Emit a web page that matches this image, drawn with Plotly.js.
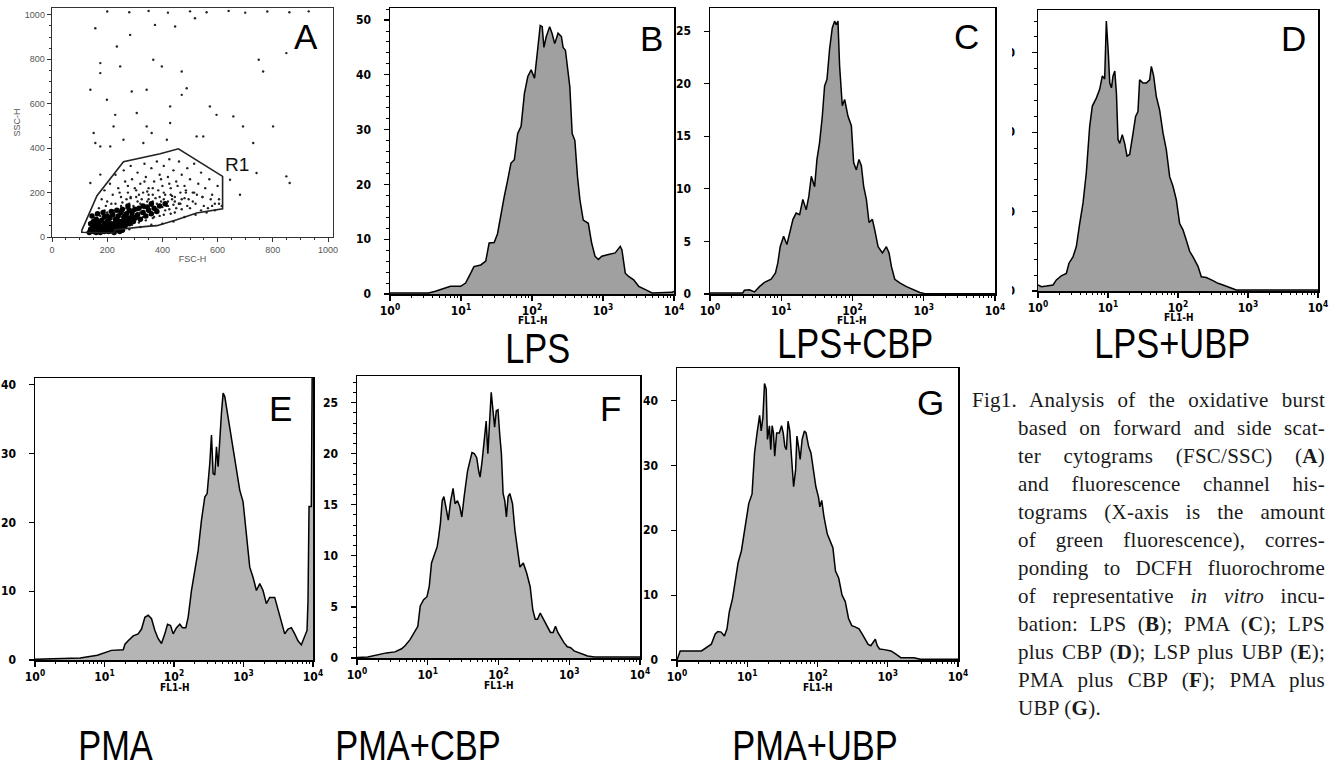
<!DOCTYPE html>
<html><head><meta charset="utf-8">
<script src="https://cdn.plot.ly/plotly-3.0.1.min.js"></script>
<style>
html,body{margin:0;padding:0;background:#fff;}
#chart{position:absolute;left:0;top:0;width:1339px;height:778px;}
#caption{position:absolute;left:972px;top:386px;width:353px;font-family:"Liberation Serif","DejaVu Serif",serif;font-size:21px;letter-spacing:0.25px;line-height:28px;color:#1a1a1a;}
#caption .l{text-align:justify;text-align-last:justify;padding-left:46px;}
#caption .l.first{padding-left:0;}
#caption .l.last{text-align-last:left;}
</style></head><body>
<div id="chart"></div>
<div id="caption">
<div class="l first">Fig1. Analysis of the oxidative burst</div>
<div class="l">based on forward and side scat-</div>
<div class="l">ter cytograms (FSC/SSC) (<b>A</b>)</div>
<div class="l">and fluorescence channel his-</div>
<div class="l">tograms (X-axis is the amount</div>
<div class="l">of green fluorescence), corres-</div>
<div class="l">ponding to DCFH fluorochrome</div>
<div class="l">of representative <i>in vitro</i> incu-</div>
<div class="l">bation: LPS (<b>B</b>); PMA (<b>C</b>); LPS</div>
<div class="l">plus CBP (<b>D</b>); LSP plus UBP (<b>E</b>);</div>
<div class="l">PMA plus CBP (<b>F</b>); PMA plus</div>
<div class="l last">UBP (<b>G</b>).</div>
</div>
<script>
// ---------------- DATA ----------------
const panelTitles = ['LPS', 'LPS+CBP', 'LPS+UBP', 'PMA', 'PMA+CBP', 'PMA+UBP'];
const panelLetters = ['A', 'B', 'C', 'D', 'E', 'F', 'G'];
const decadeTicks = [1, 10, 100, 1000, 10000];
const decadeLabels = ['10<sup>0</sup>', '10<sup>1</sup>', '10<sup>2</sup>', '10<sup>3</sup>', '10<sup>4</sup>'];
const fscTicks = [0, 200, 400, 600, 800, 1000];
const fl1Title = 'FL1-H';

// Panel A: FSC/SSC cytogram (events)
const scatterFsc = [200,280,350,420,500,560,640,700,780,860,930,
 157,283,235,373,446,518,367,398,175,175,247,470,749,765,849,139,289,343,488,199,229,428,572,596,470,307,361,524,657,692,801,151,157,175,223,259,331,416,548,729,741,849,861,681,645,175,139,211,343,428,
 145,150,155,160,165,170,175,180,185,190,195,200,205,210,215,220,225,230,235,240,245,250,255,260,265,270,275,280,285,290,295,300,305,310,315,320,325,330,335,340,345,350,355,360,365,370,375,380,390,400,410,420,430,440,450,
 155,160,170,175,180,185,195,200,210,220,230,240,250,260,270,280,290,300,310,320,330,340,350,360,370,380,395,405,415,425,435,445,460,470,480,490,
 170,180,190,200,210,220,230,240,250,260,265,275,285,290,300,305,310,320,330,335,340,350,360,365,370,380,385,390,400,405,410,420,425,430,440,445,450,460,465,470,480,490,495,500,510,515,520,530,540,545,555,565,570,580,590,600,605,615,
 160,190,230,270,310,350,390,430,470,510,550,590,255,285,325,365,405,445,485,525,400,440,480,520,560,360,320,280,
 215,245,275,305,335,365,395,425,455,485,515,545,575,605,300,340,380,420,460,500,540,580,195,225,255,285,315,345,375,405,435,465];
const scatterSsc = [1015,1012,1018,1010,1016,1012,1018,1010,1015,1012,1016,
 940,910,858,955,948,985,798,768,783,738,768,745,798,745,828,663,655,663,670,618,550,588,588,550,640,558,468,453,543,498,498,468,423,408,498,438,423,438,453,423,288,273,243,190,258,281,243,408,498,513,
 30,45,25,60,40,75,30,55,90,40,65,30,80,50,100,35,70,55,95,40,120,75,60,100,45,130,85,70,110,55,140,95,80,120,65,150,105,90,130,75,160,115,100,140,85,125,110,150,95,135,120,160,105,145,130,
 70,35,50,95,25,65,45,110,75,120,85,65,140,80,60,150,100,130,85,110,140,95,170,105,90,120,160,100,140,125,170,110,150,125,175,140,
 130,170,210,160,240,190,280,220,180,300,250,200,320,260,220,180,290,240,200,330,270,220,310,190,250,340,210,280,230,320,190,270,350,220,300,180,250,340,200,280,230,310,170,260,200,330,150,240,290,180,220,130,260,190,150,230,170,140,
 100,120,150,170,160,190,180,190,170,160,140,120,110,180,170,160,170,160,200,190,60,70,90,100,110,55,45,35,
 150,200,230,210,250,220,260,240,230,210,200,180,170,150,120,135,125,140,150,130,120,140,140,110,155,175,190,205,175,200,185,150];
// dense core of the population (appears solid black)
const coreFsc = [135,140,145,150,155,160,165,170,175,180,185,190,195,200,205,210,215,220,225,230,235,240,245,250,255,260,265,270,275,280,285,290,295,300,310,320,330,340,350,360,370,380,
 140,150,160,170,180,190,200,210,220,230,240,250,260,270,280,290,300,315,330,345,360,390,410,
 150,160,170,190,210,235,255,245,225,185,165,200,215,235,255,275,145,165,185];
const coreSsc = [20,35,55,25,40,20,30,45,20,35,50,25,40,55,25,40,60,30,45,65,35,50,70,40,55,75,50,65,85,60,75,95,70,85,100,80,110,95,120,105,130,115,
 60,70,80,65,75,90,70,85,100,80,95,110,90,105,120,110,125,130,140,135,150,140,150,
 50,55,30,60,30,80,30,25,20,30,65,95,115,120,125,140,95,105,110];
const gateFsc = [108, 163, 259, 392, 458, 618, 618, 524, 452, 380, 343, 229, 223, 108, 108];
const gateSsc = [30, 186, 339, 375, 397, 273, 127, 108, 78, 51, 48, 33, 18, 21, 30];

// Panel B: LPS
const lpsFl1 = [1,3.5,4.36,7.1,9.9,11.6,13.7,15.2,19.0,22.3,24.9,29.3,32.7,35.7,40.7,45.4,50.6,56.4,62.9,70.2,78.2,87.3,97.3,108.6,114.6,121,130.6,139.4,147.2,158.9,177.4,191.4,208.9,232.8,259.5,274.2,295.8,322.8,341.2,368.1,401.8,437.5,473,527,621,692,772,861,960,1194,1486,1750,1846,2060,2297,2704,3184,3963,4920,9460,10000];
const lpsCount = [0.2,0.2,0.5,1.4,1.4,2,3.8,5,5.3,6,9.3,9.4,11,14,17.8,20.8,23.9,24.5,29.3,30.6,36.6,39.7,40.9,39.4,42.7,45,49,48.8,45,47,48.8,47.6,45.7,47.6,47,45,44.5,40.9,37.8,29.3,28,21.4,17.2,13.5,12.9,9.3,6.9,6.3,6.9,7.2,7.5,8.7,8.1,3.8,3.2,2.6,1.4,0.8,0.2,0.3,0.5];

// Panel C: LPS+CBP
const lpsCbpFl1 = [1,2.88,3.04,3.57,4.21,4.94,5.81,7.21,8.30,8.95,9.66,10.8,12.0,13.1,14.6,16.2,18.1,20.1,22.4,24.4,26.4,29.4,31.7,34.5,37.7,40.6,43.8,47.7,52.0,56.1,59.3,62.5,65.9,71.9,77.6,86.5,96.4,103.8,113.2,123.4,133.1,143.6,156.6,170.7,190.2,205.2,228.6,263,299,326,352,392,461,572,710,881,1036,10000];
const lpsCbpCount = [0.1,0.1,0.35,0.4,0.2,0.7,1.1,1.4,2.0,2.95,4.5,5.5,4.7,5.8,7.1,7.7,7.55,9.0,8.0,9.3,11.2,10.2,12.8,14.4,16.9,19.8,20.4,23.3,25.3,25.95,25.6,25.95,21.7,17.9,18.5,16.9,16.0,12.5,11.8,12.8,12.2,10.2,9.0,6.8,7.1,6.1,4.5,3.9,4.5,3.9,2.6,1.4,1.05,0.7,0.4,0.15,0.03,0.03];

// Panel D: LPS+UBP
const lpsUbpFl1 = [1.0,1.12,1.32,1.64,1.83,2.15,2.54,2.77,3.16,3.53,3.94,4.40,4.90,5.47,5.97,6.81,7.60,8.30,8.96,9.47,10.1,10.6,11.2,11.8,12.5,13.2,13.9,14.7,16.0,17.3,18.7,20.4,22.8,24.8,26.8,28.3,31.6,35.3,39.4,41.6,44.9,49.0,54.7,61.1,68.1,76.0,84.8,94.6,105.6,117.8,131.5,146.8,163.8,193.1,215.3,254,316,373,440,547,681,10000];
const lpsUbpCount = [0.76,0.55,0.63,0.76,1.4,1.9,2.2,3.5,4.3,5.6,8.5,11.1,14.9,20.7,23.3,24.3,25.4,27.1,26.7,34.0,30.0,26.2,25.6,27.1,27.7,24.9,19.1,18.6,19.7,18.6,17.0,17.2,19.9,22.0,22.6,26.6,26.2,26.2,26.6,28.3,27.1,24.5,22.8,19.9,17.8,14.4,13.2,11.5,8.5,7.7,6.4,5.0,4.3,3.1,1.8,1.7,1.3,0.97,0.76,0.46,0.13,0.13];
const lpsUbpTicks = [0, 10, 20, 30];

// Panel E: PMA
const pmaFl1 = [1,4.47,7.9,10,12.6,18.6,19.7,21.9,25.9,30.5,34.1,38.1,42.6,47.5,53.1,59.2,66.1,73.8,80.7,89.1,97.3,108.6,121.3,132.5,147.9,159.8,178.4,199.2,222.4,248.3,277.3,299.7,327.4,346,365.6,386.4,408.2,431.4,455.8,481.6,509,538,568,634,708,791,883,986,1101,1230,1374,1535,1714,1910,2133,2382,2812,3141,3508,3918,4375,4887,5457,6083,6795,7586,8204,8472,8770,9460,9680,10000];
const pmaCount = [0.1,0.3,0.7,1.0,1.4,1.5,2.3,2.8,3.5,3.8,4.5,6.2,6.5,6.0,4.3,3.1,2.4,3.8,5.2,5.0,3.8,4.7,5.2,4.7,4.7,6.2,10.1,13.0,15.9,20.3,23.7,24.2,28.6,32.7,27.1,26.9,31.0,28.1,32.5,35.9,38.8,38.3,36.8,33.9,30.5,28.1,24.7,23.0,18.4,13.5,12.0,10.1,11.1,10.1,8.2,9.1,9.1,7.2,5.7,3.8,4.5,4.7,3.8,2.8,2.2,3.3,4.3,8.6,22.3,22.3,60,60];

// Panel F: PMA+CBP
const pmaCbpFl1 = [1,1.42,2.60,3.43,4.27,4.77,5.62,6.49,7.24,7.83,8.74,9.75,10.5,11.3,12.2,13.6,14.3,15.1,16.0,16.9,17.9,19.5,21.1,22.8,24.3,26.3,28.4,30.3,32.7,34.6,36.5,39.5,42.2,45.5,49.2,52.5,54.9,58.7,63.4,67.0,70.7,74.7,78.9,83.4,88.1,93.1,98.4,104,109.9,116.1,122.5,129.4,136.8,144.5,157.8,170.6,184.1,201,224.4,250.6,279.9,305.5,330.1,356.5,389.2,434.5,485.3,542,591.6,638.3,690.2,753.4,841.4,939.7,1047,1170,1380,1816,2265,10000];
const pmaCbpCount = [0.05,0.1,0.5,0.6,0.9,1.2,1.8,2.5,3.1,5.1,5.7,6.0,7.0,9.3,9.9,10.9,11.9,13.2,15.4,15.8,14.9,13.5,15.4,16.6,15.1,15.4,14.8,13.8,15.8,17.4,18.3,19.3,20.1,20.0,19.6,18.3,17.7,19.3,21.6,23.2,20.0,23.2,26.0,24.3,22.6,24.2,24.3,21.9,20.0,16.1,15.4,13.8,15.8,16.1,15.1,12.5,10.9,8.9,9.3,8.3,7.0,4.7,3.8,3.8,4.4,3.8,3.1,2.5,2.5,3.1,2.5,2.0,1.5,1.1,1.0,0.7,0.5,0.2,0.1,0.1];

// Panel G: PMA+UBP
const pmaUbpFl1 = [1.0,1.11,2.23,2.62,3.08,3.50,3.81,4.25,4.73,5.15,5.55,6.18,6.87,7.41,8.25,9.18,10.5,11.7,12.7,13.8,15.0,15.8,16.7,17.6,18.6,19.4,20.7,21.6,22.6,23.6,24.6,26.2,28.6,30.8,32.5,34.3,36.1,38.1,40.3,42.9,45.7,48.8,50.9,53.7,56.6,60.4,65.1,68.7,74.8,80.7,87.1,94.8,103.3,107.9,114.9,123.9,138,153.6,165.6,180.4,200.6,223.4,248.5,276.6,307.6,342.8,389.9,433.5,483.1,526.2,573,618,665.3,709.6,765.3,897.5,1114,1307,1535,2355,2917,10000];
const pmaUbpCount = [0,1.39,1.39,1.92,2.44,4.0,4.4,4.3,3.7,4.8,7.4,9.5,13.1,15.0,16.8,20.4,24.1,25.6,31.9,35.0,37.7,35.3,37.4,42.6,41.8,34.0,36.1,32.4,36.1,35.0,31.4,35.0,35.0,36.1,35.0,32.9,32.4,36.8,35.3,30.9,26.7,29.3,34.5,32.9,30.9,34.0,35.3,35.0,32.9,31.9,29.3,26.7,25.1,23.6,24.6,22.0,19.4,18.3,17.3,13.7,12.6,10.0,9.0,6.4,5.3,5.1,4.8,4.0,3.2,2.4,2.2,2.7,3.2,2.2,1.7,1.6,1.4,0.9,0.35,0.35,0.1,0.1];

// ---------------- STYLE / LAYOUT ----------------
const W = 1339, H = 778;
const NARROW = '"DejaVu Sans Condensed", "Liberation Sans", sans-serif';
const SANS = '"Liberation Sans", Arial, sans-serif';
const px = (a, b) => [a / W, b / W];
const py = (top, bottom) => [1 - bottom / H, 1 - top / H];

const tickFont = {family: NARROW, size: 12, color: '#000', weight: 'bold'};

function logAxis(dom, anchor) {
  return {domain: dom, anchor: anchor, type: 'log', range: [0, 4],
    tickmode: 'array', tickvals: decadeTicks, ticktext: decadeLabels,
    ticks: 'outside', ticklen: 5, tickwidth: 1.2, tickcolor: '#000',
    showline: true, linecolor: '#000', linewidth: 1.5, mirror: true,
    showgrid: false, zeroline: false, tickfont: tickFont,
    minor: {ticks: 'outside', ticklen: 2.5, tickwidth: 1, tickcolor: '#000', dtick: 'D1', showgrid: false},
    fixedrange: true};
}
function linAxis(dom, anchor, max, vals, minorStep, extra) {
  const ax = {domain: dom, anchor: anchor, range: [0, max],
    tickmode: 'array', tickvals: vals,
    ticks: 'outside', ticklen: 5, tickwidth: 1.2, tickcolor: '#000',
    showline: true, linecolor: '#000', linewidth: 1.5, mirror: true,
    showgrid: false, zeroline: false, ticklabelstandoff: 10, tickfont: tickFont,
    fixedrange: true};
  if (minorStep) ax.minor = {ticks: 'outside', ticklen: 2.5, tickwidth: 1, tickcolor: '#000', dtick: minorStep, showgrid: false};
  return Object.assign(ax, extra || {});
}
function hist(x, y, xa, ya, fill) {
  return {type: 'scatter', mode: 'lines', x: x, y: y, xaxis: xa, yaxis: ya,
    fill: 'tozeroy', fillcolor: fill, line: {color: '#000', width: 1.5, shape: 'linear'},
    hoverinfo: 'skip', showlegend: false, cliponaxis: true};
}

const topFill = '#a0a0a0', botFill = '#b5b5b5';
const traces = [
  {type: 'scatter', mode: 'markers', x: scatterFsc, y: scatterSsc, xaxis: 'x', yaxis: 'y',
   marker: {color: '#222', size: 2.4}, hoverinfo: 'skip', showlegend: false},
  {type: 'scatter', mode: 'markers', x: coreFsc, y: coreSsc, xaxis: 'x', yaxis: 'y',
   marker: {color: '#000', size: 5.5}, hoverinfo: 'skip', showlegend: false},
  {type: 'scatter', mode: 'lines', x: gateFsc, y: gateSsc, xaxis: 'x', yaxis: 'y',
   line: {color: '#222', width: 1.6}, hoverinfo: 'skip', showlegend: false},
  hist(lpsFl1, lpsCount, 'x2', 'y2', topFill),
  hist(lpsCbpFl1, lpsCbpCount, 'x3', 'y3', topFill),
  hist(lpsUbpFl1, lpsUbpCount, 'x4', 'y4', topFill),
  hist(pmaFl1, pmaCount, 'x5', 'y5', botFill),
  hist(pmaCbpFl1, pmaCbpCount, 'x6', 'y6', botFill),
  hist(pmaUbpFl1, pmaUbpCount, 'x7', 'y7', botFill)
];

const smallGray = {family: SANS, size: 9, color: '#555'};
const layout = {
  width: W, height: H, margin: {l: 0, r: 0, t: 0, b: 0},
  paper_bgcolor: '#fff', plot_bgcolor: '#fff', showlegend: false,
  xaxis: {domain: px(52, 333), anchor: 'y', range: [0, 1018], tickmode: 'array', tickvals: fscTicks,
    ticks: 'outside', ticklen: 4, tickcolor: '#333', showline: true, linecolor: '#333', linewidth: 1.3, mirror: true,
    showgrid: false, zeroline: false, tickfont: smallGray,
    minor: {ticks: 'outside', ticklen: 2, tickcolor: '#333', dtick: 50, showgrid: false},
    title: {text: 'FSC-H', font: smallGray, standoff: 1}, fixedrange: true},
  yaxis: {domain: py(8, 237), anchor: 'x', range: [0, 1031], tickmode: 'array', tickvals: fscTicks,
    ticks: 'outside', ticklen: 4, tickcolor: '#333', showline: true, linecolor: '#333', linewidth: 1.3, mirror: true,
    showgrid: false, zeroline: false, tickfont: smallGray,
    minor: {ticks: 'outside', ticklen: 2, tickcolor: '#333', dtick: 50, showgrid: false},
    title: {text: 'SSC-H', font: smallGray, standoff: 2}, fixedrange: true},
  xaxis2: logAxis(px(390, 674), 'y2'),
  yaxis2: linAxis(py(8, 294), 'x2', 52.2, [0, 10, 20, 30, 40, 50], 2),
  xaxis3: logAxis(px(710, 995), 'y3'),
  yaxis3: linAxis(py(8, 294), 'x3', 27.2, [0, 5, 10, 15, 20, 25], null),
  xaxis4: logAxis(px(1038, 1318), 'y4'),
  yaxis4: linAxis(py(10, 291), 'x4', 35.4, lpsUbpTicks, 2, {ticklabelstandoff: 14}),
  xaxis5: logAxis(px(35, 313), 'y5'),
  yaxis5: linAxis(py(378, 660), 'x5', 41, [0, 10, 20, 30, 40], null),
  xaxis6: logAxis(px(357, 640), 'y6'),
  yaxis6: linAxis(py(376, 658), 'x6', 27.6, [0, 5, 10, 15, 20, 25], 1),
  xaxis7: logAxis(px(677, 958), 'y7'),
  yaxis7: linAxis(py(368, 660), 'x7', 45, [0, 10, 20, 30, 40], null),
  shapes: [
    // mask hiding most of panel D's clipped y tick labels (as in the source figure)
    {type: 'rect', xref: 'paper', yref: 'paper', x0: 997 / W, x1: 1012 / W, y0: 1 - 297 / H, y1: 1,
     fillcolor: '#fff', line: {width: 0}, layer: 'above'}
  ],
  annotations: []
};

// panel letters (positions in pixels)
const letterPos = [[306, 37], [651, 38], [966, 36], [1293, 38], [280, 408], [610, 408], [930, 403]];
panelLetters.forEach((t, i) => {
  layout.annotations.push({text: t, xref: 'paper', yref: 'paper', x: letterPos[i][0] / W, y: 1 - letterPos[i][1] / H,
    xanchor: 'center', yanchor: 'middle', showarrow: false, font: {family: SANS, size: 35, color: '#000'}});
});
// condition titles
const titlePos = [[537, 348], [855, 344], [1172, 344], [115, 745], [418, 745], [815, 745]];
panelTitles.forEach((t, i) => {
  layout.annotations.push({text: t, xref: 'paper', yref: 'paper', x: titlePos[i][0] / W, y: 1 - titlePos[i][1] / H,
    xanchor: 'center', yanchor: 'middle', showarrow: false, font: {family: SANS, size: 42, color: '#000'}});
});
// FL1-H axis titles under each histogram (x centre of the axis, just below the tick labels)
const fl1Pos = [[532, 320], [852, 320], [1178, 317], [174, 687], [498, 685], [817, 687]];
fl1Pos.forEach(p => {
  layout.annotations.push({text: fl1Title, xref: 'paper', yref: 'paper', x: p[0] / W, y: 1 - p[1] / H,
    xanchor: 'center', yanchor: 'middle', showarrow: false, font: {family: NARROW, size: 10, color: '#000', weight: 'bold'}});
});
// gate label
layout.annotations.push({text: 'R1', xref: 'x', yref: 'y', x: 669, y: 325, xanchor: 'center', yanchor: 'middle',
  showarrow: false, font: {family: SANS, size: 19, color: '#111'}});

Plotly.newPlot('chart', traces, layout, {staticPlot: true, displayModeBar: false}).then(gd => {
  // condense the large condition titles horizontally (the source uses a narrow typeface)
  gd.querySelectorAll('g.annotation text.annotation-text').forEach(t => {
    if (parseFloat(t.style.fontSize) >= 40) {
      const b = t.getBBox();
      const cx = b.x + b.width / 2;
      t.setAttribute('transform', 'translate(' + cx + ',0) scale(0.82,1) translate(' + (-cx) + ',0)');
    }
  });
});
</script>
</body></html>
